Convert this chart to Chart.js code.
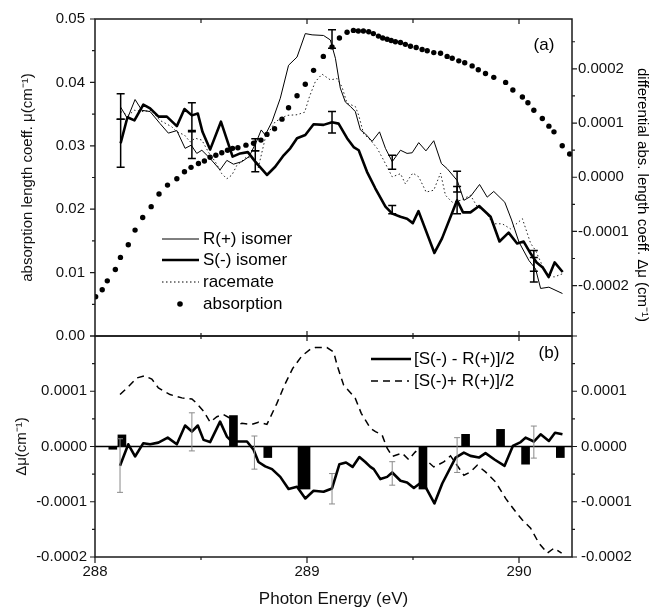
<!DOCTYPE html>
<html>
<head>
<meta charset="utf-8">
<script src="https://cdn.jsdelivr.net/npm/chart.js@4.4.1/dist/chart.umd.min.js"></script>
<style>
  html, body { margin: 0; padding: 0; background: #fff; }
  #wrap { position: relative; width: 650px; height: 610px; overflow: hidden; }
  canvas { position: absolute; left: 0; }
  #topChart { top: 0; width: 650px; height: 350px; }
  #bottomChart { top: 330px; width: 650px; height: 280px; }
</style>
</head>
<body>
<div id="wrap">
  <canvas id="topChart" width="650" height="350"></canvas>
  <canvas id="bottomChart" width="650" height="280"></canvas>
</div>
<script>
// ---- data: [photon energy (eV), value] ----
const rIsomer = [
  [288.121,0.0361],[288.153,0.0343],[288.189,0.0373],[288.221,0.0356],[288.260,0.0354],[288.307,0.0335],
  [288.346,0.0320],[288.386,0.0324],[288.425,0.0296],[288.454,0.0301],[288.480,0.0288],[288.504,0.0293],
  [288.543,0.0280],[288.590,0.0262],[288.622,0.0277],[288.653,0.0271],[288.693,0.0275],[288.727,0.0283],
  [288.761,0.0306],[288.784,0.0325],[288.803,0.0317],[288.835,0.0338],[288.874,0.0375],[288.913,0.0427],
  [288.953,0.0440],[288.992,0.0477],[289.024,0.0475],[289.078,0.0474],[289.110,0.0467],[289.134,0.0438],
  [289.157,0.0391],[289.181,0.0369],[289.205,0.0362],[289.228,0.0354],[289.252,0.0325],[289.275,0.0319],
  [289.307,0.0307],[289.342,0.0322],[289.370,0.0296],[289.402,0.0275],[289.441,0.0293],[289.472,0.0288],
  [289.496,0.0289],[289.527,0.0305],[289.561,0.0292],[289.598,0.0308],[289.634,0.0272],[289.661,0.0264],
  [289.709,0.0245],[289.740,0.0214],[289.771,0.0220],[289.814,0.0239],[289.850,0.0219],[289.881,0.0228],
  [289.933,0.0211],[289.965,0.0183],[290.000,0.0148],[290.047,0.0119],[290.078,0.0106],[290.102,0.0075],
  [290.141,0.0077],[290.205,0.0067]
]
const sIsomer = [
  [288.121,0.0304],[288.153,0.0345],[288.186,0.0340],[288.228,0.0365],[288.260,0.0359],[288.300,0.0346],
  [288.339,0.0346],[288.386,0.0331],[288.422,0.0358],[288.457,0.0348],[288.485,0.0351],[288.507,0.0322],
  [288.543,0.0294],[288.594,0.0338],[288.649,0.0283],[288.685,0.0288],[288.721,0.0290],[288.756,0.0275],
  [288.811,0.0254],[288.850,0.0267],[288.890,0.0285],[288.921,0.0296],[288.953,0.0312],[288.992,0.0317],
  [289.031,0.0334],[289.078,0.0333],[289.118,0.0337],[289.149,0.0335],[289.189,0.0312],[289.220,0.0298],
  [289.244,0.0293],[289.283,0.0259],[289.322,0.0233],[289.370,0.0204],[289.402,0.0193],[289.441,0.0188],
  [289.472,0.0185],[289.499,0.0178],[289.526,0.0197],[289.601,0.0131],[289.637,0.0154],[289.708,0.0214],
  [289.736,0.0195],[289.771,0.0195],[289.812,0.0205],[289.866,0.0188],[289.908,0.0149],[289.951,0.0163],
  [289.991,0.0146],[290.022,0.0149],[290.055,0.0130],[290.083,0.0116],[290.112,0.0108],[290.140,0.0093],
  [290.168,0.0116],[290.206,0.0101]
]
const racemate = [
  [288.121,0.0354],[288.157,0.0348],[288.186,0.0356],[288.228,0.0354],[288.265,0.0356],[288.307,0.0340],
  [288.362,0.0330],[288.386,0.0322],[288.422,0.0317],[288.449,0.0306],[288.472,0.0312],[288.504,0.0309],
  [288.535,0.0290],[288.567,0.0275],[288.598,0.0256],[288.622,0.0248],[288.646,0.0254],[288.669,0.0269],
  [288.717,0.0283],[288.756,0.0277],[288.770,0.0265],[288.803,0.0312],[288.850,0.0338],[288.906,0.0348],
  [288.953,0.0349],[288.989,0.0353],[289.011,0.0377],[289.039,0.0401],[289.071,0.0413],[289.110,0.0404],
  [289.142,0.0406],[289.165,0.0393],[289.189,0.0367],[289.228,0.0362],[289.244,0.0348],[289.267,0.0319],
  [289.299,0.0309],[289.331,0.0296],[289.362,0.0277],[289.402,0.0251],[289.441,0.0256],[289.464,0.0240],
  [289.499,0.0257],[289.527,0.0251],[289.562,0.0227],[289.598,0.0230],[289.630,0.0257],[289.653,0.0222],
  [289.685,0.0211],[289.724,0.0214],[289.771,0.0222],[289.803,0.0204],[289.842,0.0196],[289.877,0.0177],
  [289.921,0.0177],[289.960,0.0169],[290.016,0.0185],[290.055,0.0146],[290.078,0.0135],[290.110,0.0111],
  [290.134,0.0098],[290.165,0.0093],[290.204,0.0098]
]
const absorption = [
  [288.003,0.0062],[288.034,0.0073],[288.058,0.0087],[288.096,0.0105],[288.120,0.0124],[288.157,0.0144],
  [288.189,0.0167],[288.225,0.0187],[288.265,0.0204],[288.302,0.0224],[288.342,0.0238],[288.386,0.0248],
  [288.422,0.0259],[288.453,0.0266],[288.488,0.0272],[288.516,0.0276],[288.543,0.0282],[288.570,0.0285],
  [288.598,0.0289],[288.625,0.0293],[288.649,0.0296],[288.674,0.0297],[288.712,0.0301],[288.748,0.0304],
  [288.783,0.0309],[288.811,0.0318],[288.847,0.0327],[288.882,0.0342],[288.913,0.0360],[288.953,0.0379],
  [288.992,0.0397],[289.031,0.0419],[289.077,0.0441],[289.118,0.0456],[289.153,0.0470],[289.189,0.0479],
  [289.219,0.0482],[289.242,0.0481],[289.266,0.0481],[289.291,0.0480],[289.313,0.0477],[289.337,0.0473],
  [289.357,0.0470],[289.378,0.0468],[289.397,0.0466],[289.417,0.0464],[289.441,0.0463],[289.464,0.0460],
  [289.488,0.0457],[289.515,0.0455],[289.543,0.0452],[289.567,0.0450],[289.598,0.0447],[289.630,0.0446],
  [289.661,0.0441],[289.685,0.0438],[289.716,0.0434],[289.744,0.0431],[289.779,0.0426],[289.808,0.0420],
  [289.842,0.0414],[289.881,0.0408],[289.937,0.0400],[289.971,0.0388],[290.016,0.0377],[290.042,0.0368],
  [290.070,0.0356],[290.110,0.0343],[290.141,0.0331],[290.165,0.0322],[290.204,0.0300],[290.239,0.0287]
]
// [energy, low, high]
const topErrors = [
  [288.121,0.0266,0.0342],[288.121,0.0342,0.0382],[288.457,0.0324,0.0368],[288.457,0.0280,0.0322],
  [288.756,0.0259,0.0292],[288.756,0.0292,0.0311],[289.118,0.0454,0.0483],[289.118,0.0320,0.0354],
  [289.402,0.0263,0.0285],[289.402,0.0193,0.0206],[289.708,0.0227,0.0260],[289.708,0.0193,0.0236],
  [290.070,0.0085,0.0124],[290.070,0.0102,0.0135]
]

const halfDiff = [
  [288.118,-3.5e-5],[288.157,0.4e-5],[288.189,-1.8e-5],[288.228,0.6e-5],[288.260,0.4e-5],[288.299,0.7e-5],
  [288.343,1.6e-5],[288.386,0.4e-5],[288.425,3.8e-5],[288.457,2.7e-5],[288.485,3.8e-5],[288.512,1.2e-5],
  [288.543,0.8e-5],[288.590,4.5e-5],[288.622,1.8e-5],[288.646,0.9e-5],[288.717,0.9e-5],[288.748,-0.6e-5],
  [288.771,-2.8e-5],[288.803,-3.6e-5],[288.835,-4.1e-5],[288.874,-5.5e-5],[288.913,-7.7e-5],[288.953,-7.3e-5],
  [288.992,-9.4e-5],[289.031,-8.0e-5],[289.078,-8.2e-5],[289.118,-7.6e-5],[289.153,-3.2e-5],[289.184,-2.9e-5],
  [289.215,-3.7e-5],[289.247,-1.9e-5],[289.275,-2.8e-5],[289.299,-3.7e-5],[289.315,-4.1e-5],[289.346,-5.9e-5],
  [289.378,-5.5e-5],[289.402,-4.7e-5],[289.441,-6.2e-5],[289.472,-6.5e-5],[289.504,-7.5e-5],[289.535,-6.6e-5],
  [289.559,-7.3e-5],[289.601,-10.3e-5],[289.638,-6.7e-5],[289.701,-2.0e-5],[289.740,-1.1e-5],[289.771,-1.7e-5],
  [289.811,-2.0e-5],[289.842,-1.2e-5],[289.886,-2.4e-5],[289.932,-3.5e-5],[289.971,0.1e-5],[290.008,0.8e-5],
  [290.031,1.6e-5],[290.070,0.9e-5],[290.102,2.2e-5],[290.141,1.0e-5],[290.170,2.5e-5],[290.205,2.2e-5]
]
const halfSum = [
  [288.118,9.4e-5],[288.157,10.8e-5],[288.197,12.4e-5],[288.233,12.8e-5],[288.268,12.2e-5],[288.299,10.6e-5],
  [288.354,9.4e-5],[288.410,8.8e-5],[288.457,8.6e-5],[288.480,7.8e-5],[288.512,6.4e-5],[288.543,4.4e-5],
  [288.575,5.4e-5],[288.606,5.8e-5],[288.638,5.1e-5],[288.653,3.6e-5],[288.693,4.2e-5],[288.740,4.0e-5],
  [288.771,4.4e-5],[288.811,4.0e-5],[288.858,7.8e-5],[288.894,11.1e-5],[288.932,14.1e-5],[288.976,16.4e-5],
  [289.016,17.6e-5],[289.039,17.9e-5],[289.094,17.9e-5],[289.126,17.1e-5],[289.142,14.7e-5],[289.173,11.1e-5],
  [289.213,9.4e-5],[289.228,8.7e-5],[289.256,6.0e-5],[289.299,3.3e-5],[289.323,2.7e-5],[289.354,2.1e-5],
  [289.378,-0.3e-5],[289.402,-1.8e-5],[289.449,-1.2e-5],[289.480,-2.4e-5],[289.512,-0.9e-5],[289.551,-2.1e-5],
  [289.598,-3.7e-5],[289.645,-2.8e-5],[289.677,-1.7e-5],[289.740,-5.2e-5],[289.771,-4.6e-5],[289.803,-3.4e-5],
  [289.842,-4.6e-5],[289.889,-6.4e-5],[289.937,-9.4e-5],[289.984,-11.8e-5],[290.016,-13.3e-5],[290.055,-14.8e-5],
  [290.094,-17.5e-5],[290.134,-19.3e-5],[290.165,-18.4e-5],[290.201,-19.3e-5]
]
const diffBars = [
  [288.084,-0.5e-5],[288.127,2.1e-5],[288.653,5.6e-5],[288.815,-2.0e-5],[289.547,-7.7e-5],
  [289.748,2.2e-5],[289.913,3.1e-5],[290.031,-3.2e-5],[290.195,-2.0e-5]
]
const diffBarsWide = [[288.986,-7.7e-5]]
const bottomErrors = [
  [288.118,-8.3e-5,1.4e-5],[288.457,-0.8e-5,6.1e-5],[288.752,-4.1e-5,1.9e-5],[289.118,-10.4e-5,-4.9e-5],
  [289.402,-7.0e-5,-2.75e-5],[289.708,-4.7e-5,1.6e-5],[290.070,-2.1e-5,3.7e-5]
]

// tick labels
const energyTicks = [288, 289, 290]
const muTicks = [0, 0.01, 0.02, 0.03, 0.04, 0.05]
const dmuTicksTop = [-0.0002, -0.0001, 0, 0.0001, 0.0002]
const dmuTicksBottom = [-0.0002, -0.0001, 0, 0.0001]

const FONT = '"Liberation Sans", Arial, Helvetica, sans-serif'
const INK = '#111'
Chart.defaults.font.family = FONT
Chart.defaults.color = INK

const toXY = (pairs) => pairs.map(([x, y]) => ({ x, y }))
const range = (from, to, step) => {
  const out = []
  for (let v = from; v <= to + step / 1000; v += step) out.push(+v.toFixed(8))
  return out
}
const setTicks = (values) => (scale) => { scale.ticks = values.map((v) => ({ value: v })) }
// fixed axis size, and no extra room for half labels at the ends
const fixWidth = (w) => (s) => { s.width = w; s.paddingTop = 0; s.paddingBottom = 0 }
const fixHeight = (h) => (s) => { s.height = h; s.paddingLeft = 0; s.paddingRight = 0 }

// short marks on one edge of the plot area
function edgeTicks(chart, scaleId, values, edge, outLen, inLen) {
  const { ctx, chartArea: a } = chart
  const s = chart.scales[scaleId]
  ctx.beginPath()
  values.forEach((v) => {
    const p = s.getPixelForValue(v)
    if (edge === 'left') { ctx.moveTo(a.left - outLen, p); ctx.lineTo(a.left + inLen, p) }
    if (edge === 'right') { ctx.moveTo(a.right - inLen, p); ctx.lineTo(a.right + outLen, p) }
    if (edge === 'top') { ctx.moveTo(p, a.top - outLen); ctx.lineTo(p, a.top + inLen) }
    if (edge === 'bottom') { ctx.moveTo(p, a.bottom - inLen); ctx.lineTo(p, a.bottom + outLen) }
  })
  ctx.stroke()
}

function frame(chart) {
  const { ctx, chartArea: a } = chart
  ctx.strokeStyle = '#1a1a1a'
  ctx.lineWidth = 1.5
  ctx.strokeRect(a.left, a.top, a.right - a.left, a.bottom - a.top)
  ctx.lineWidth = 1.2
}

function errorBars(chart, bars, yId, color, width, cap) {
  const { ctx } = chart
  const xs = chart.scales.x
  const ys = chart.scales[yId]
  ctx.save()
  ctx.strokeStyle = color
  ctx.lineWidth = width
  bars.forEach(([e, lo, hi]) => {
    const x = xs.getPixelForValue(e)
    const y1 = ys.getPixelForValue(lo)
    const y2 = ys.getPixelForValue(hi)
    ctx.beginPath()
    ctx.moveTo(x, y1); ctx.lineTo(x, y2)
    ctx.moveTo(x - cap, y1); ctx.lineTo(x + cap, y1)
    ctx.moveTo(x - cap, y2); ctx.lineTo(x + cap, y2)
    ctx.stroke()
  })
  ctx.restore()
}

function legendLine(ctx, x1, x2, y, width, dash) {
  ctx.save()
  ctx.strokeStyle = '#000'
  ctx.lineWidth = width
  ctx.setLineDash(dash || [])
  ctx.beginPath()
  ctx.moveTo(x1, y); ctx.lineTo(x2, y)
  ctx.stroke()
  ctx.restore()
}

const topDecor = {
  id: 'topDecor',
  afterDatasetsDraw(chart) {
    errorBars(chart, topErrors, 'y', '#000', 1.5, 4)
  },
  afterDraw(chart) {
    const { ctx } = chart
    ctx.save()
    frame(chart)
    edgeTicks(chart, 'y', muTicks, 'left', 5, 0)
    edgeTicks(chart, 'y', range(0.005, 0.045, 0.01), 'left', 3, 0)
    edgeTicks(chart, 'y2', dmuTicksTop, 'right', 5, 0)
    edgeTicks(chart, 'y2', [-0.00025, -0.00015, -0.00005, 0.00005, 0.00015, 0.00025], 'right', 3, 0)
    edgeTicks(chart, 'x', [289, 290], 'top', 0, 5)
    edgeTicks(chart, 'x', [288.5, 289.5], 'top', 0, 4)
    edgeTicks(chart, 'x', [289, 290], 'bottom', 0, 5)
    edgeTicks(chart, 'x', [288.5, 289.5], 'bottom', 0, 3)

    // legend
    legendLine(ctx, 162, 199, 239, 1)
    legendLine(ctx, 162, 199, 260, 2.6)
    legendLine(ctx, 162, 199, 282, 1, [1.5, 2.5])
    ctx.fillStyle = '#000'
    ctx.beginPath()
    ctx.arc(180, 304, 2.8, 0, Math.PI * 2)
    ctx.fill()
    ctx.font = '17px ' + FONT
    ctx.textBaseline = 'middle'
    ctx.textAlign = 'left'
    ctx.fillText('R(+) isomer', 203, 239)
    ctx.fillText('S(-) isomer', 203, 260)
    ctx.fillText('racemate', 203, 282)
    ctx.fillText('absorption', 203, 304)
    ctx.textAlign = 'center'
    ctx.fillText('(a)', 544, 45)

    // right axis title
    ctx.font = '15px ' + FONT
    ctx.translate(642, 195)
    ctx.rotate(Math.PI / 2)
    ctx.fillText('differential abs. length coeff. Δμ (cm⁻¹)', 0, 0)
    ctx.restore()
  },
}

const bottomDecor = {
  id: 'bottomDecor',
  afterDatasetsDraw(chart) {
    const { ctx, chartArea: a } = chart
    const y0 = chart.scales.y.getPixelForValue(0)
    ctx.save()
    ctx.strokeStyle = '#000'
    ctx.lineWidth = 1.4
    ctx.beginPath()
    ctx.moveTo(a.left, y0); ctx.lineTo(a.right, y0)
    ctx.stroke()
    ctx.restore()
    errorBars(chart, bottomErrors, 'y', '#8a8a8a', 1, 3)
  },
  afterDraw(chart) {
    const { ctx } = chart
    ctx.save()
    frame(chart)
    const minors = [-0.00015, -0.00005, 0.00005, 0.00015]
    edgeTicks(chart, 'y', [-0.0002, -0.0001, 0, 0.0001, 0.0002], 'left', 5, 0)
    edgeTicks(chart, 'y', minors, 'left', 3, 0)
    edgeTicks(chart, 'y2', [-0.0002, -0.0001, 0, 0.0001, 0.0002], 'right', 5, 0)
    edgeTicks(chart, 'y2', minors, 'right', 3, 0)
    edgeTicks(chart, 'x', [289, 290], 'top', 0, 5)
    edgeTicks(chart, 'x', [288.5, 289.5], 'top', 0, 3)
    edgeTicks(chart, 'x', energyTicks, 'bottom', 6, 0)
    edgeTicks(chart, 'x', [288.5, 289.5], 'bottom', 3, 0)

    legendLine(ctx, 371, 411, 29, 2.6)
    legendLine(ctx, 371, 409, 51, 1.5, [7, 5])
    ctx.fillStyle = '#000'
    ctx.font = '17px ' + FONT
    ctx.textBaseline = 'middle'
    ctx.textAlign = 'left'
    ctx.fillText('[S(-) - R(+)]/2', 414, 29)
    ctx.fillText('[S(-)+ R(+)]/2', 414, 51)
    ctx.textAlign = 'center'
    ctx.fillText('(b)', 549, 23)
    ctx.restore()
  },
}

const plainAxis = { grid: { display: false, drawTicks: false }, border: { display: false } }

// top panel: absorption length coefficients
new Chart(document.getElementById('topChart'), {
  type: 'line',
  data: {
    datasets: [
      { label: 'S(-) isomer', data: toXY(sIsomer), borderColor: '#000', borderWidth: 2.6, borderJoinStyle: 'round', pointRadius: 0 },
      { label: 'R(+) isomer', data: toXY(rIsomer), borderColor: '#000', borderWidth: 1, pointRadius: 0 },
      { label: 'racemate', data: toXY(racemate), borderColor: '#222', borderWidth: 1, borderDash: [1.5, 2.5], pointRadius: 0 },
      { label: 'absorption', data: toXY(absorption), showLine: false, pointRadius: 2.7, pointBorderWidth: 0, pointBackgroundColor: '#000' },
    ],
  },
  options: {
    responsive: false,
    animation: false,
    layout: { padding: { top: 19, bottom: 14, left: 0, right: 0 } },
    plugins: { legend: { display: false }, tooltip: { enabled: false } },
    scales: {
      x: { type: 'linear', min: 288, max: 290.25, offset: false, display: false },
      y: {
        ...plainAxis,
        position: 'left', min: 0, max: 0.05,
        afterBuildTicks: setTicks(muTicks),
        afterFit: fixWidth(95),
        ticks: { padding: 10, font: { size: 15 }, callback: (v) => v.toFixed(2) },
        title: { display: true, text: 'absorption length coeff. μ(cm⁻¹)', font: { size: 15 }, padding: { top: 19, bottom: 0 } },
      },
      y2: {
        ...plainAxis,
        position: 'right', min: -0.000293, max: 0.000292,
        afterBuildTicks: setTicks(dmuTicksTop),
        afterFit: fixWidth(78),
        ticks: { padding: 6, font: { size: 15 }, callback: (v) => v.toFixed(4) },
      },
    },
  },
  plugins: [topDecor],
})

// bottom panel: difference and mean of the two isomers
new Chart(document.getElementById('bottomChart'), {
  type: 'line',
  data: {
    datasets: [
      { label: '[S(-) - R(+)]/2', data: toXY(halfDiff), borderColor: '#000', borderWidth: 2.6, borderJoinStyle: 'round', pointRadius: 0 },
      { label: '[S(-)+ R(+)]/2', data: toXY(halfSum), borderColor: '#000', borderWidth: 1.5, borderDash: [7, 5], pointRadius: 0 },
      { type: 'bar', label: 'diff', data: toXY(diffBars), backgroundColor: '#000', borderWidth: 0, barThickness: 8, grouped: false },
      { type: 'bar', label: 'diff wide', data: toXY(diffBarsWide), backgroundColor: '#000', borderWidth: 0, barThickness: 12, grouped: false },
    ],
  },
  options: {
    responsive: false,
    animation: false,
    layout: { padding: { top: 6, bottom: 0, left: 0, right: 0 } },
    plugins: { legend: { display: false }, tooltip: { enabled: false } },
    scales: {
      x: {
        ...plainAxis,
        type: 'linear', min: 288, max: 290.25, offset: false,
        afterBuildTicks: setTicks(energyTicks),
        afterFit: fixHeight(53),
        ticks: { padding: 6, maxRotation: 0, font: { size: 15 }, callback: (v) => String(v) },
        title: { display: true, text: 'Photon Energy (eV)', font: { size: 17 }, padding: { top: 0, bottom: 0 } },
      },
      y: {
        ...plainAxis,
        position: 'left', min: -0.0002, max: 0.0002,
        afterBuildTicks: setTicks(dmuTicksBottom),
        afterFit: fixWidth(95),
        ticks: { padding: 8, font: { size: 15 }, callback: (v) => v.toFixed(4) },
        title: { display: true, text: 'Δμ(cm⁻¹)', font: { size: 15 }, padding: { top: 13, bottom: 0 } },
      },
      y2: {
        ...plainAxis,
        position: 'right', min: -0.0002, max: 0.0002,
        afterBuildTicks: setTicks(dmuTicksBottom),
        afterFit: fixWidth(78),
        ticks: { padding: 9, font: { size: 15 }, callback: (v) => v.toFixed(4) },
      },
    },
  },
  plugins: [bottomDecor],
})
</script>
</body>
</html>
